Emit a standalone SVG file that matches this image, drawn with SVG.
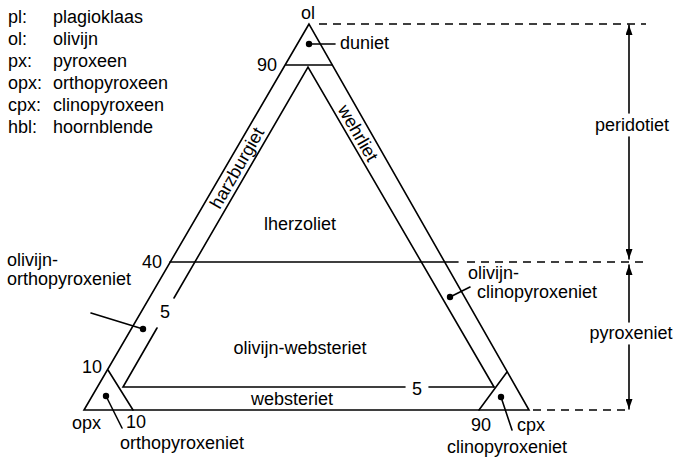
<svg xmlns="http://www.w3.org/2000/svg" width="678" height="459" viewBox="0 0 678 459">
<style>
text{font-family:"Liberation Sans",Arial,sans-serif;font-size:18px;fill:#000}
.ln{stroke:#000;stroke-width:1.6;fill:none;stroke-linecap:round}
.ds{stroke:#000;stroke-width:1.6;fill:none;stroke-dasharray:8 6}
.mid{text-anchor:middle}
</style>
<defs>
<marker id="ah" markerUnits="userSpaceOnUse" markerWidth="10" markerHeight="7" refX="10" refY="3.5" orient="auto">
<path d="M0,0 L10,3.5 L0,7 z" fill="#000"/>
</marker>
</defs>
<rect width="678" height="459" fill="#fff"/>
<g id="legend">
<text x="8" y="23">pl:</text><text x="53" y="23">plagioklaas</text>
<text x="8" y="45">ol:</text><text x="53" y="45">olivijn</text>
<text x="8" y="67">px:</text><text x="53" y="67">pyroxeen</text>
<text x="8" y="89">opx:</text><text x="53" y="89">orthopyroxeen</text>
<text x="8" y="111">cpx:</text><text x="53" y="111">clinopyroxeen</text>
<text x="8" y="133">hbl:</text><text x="53" y="133">hoornblende</text>
</g>
<g id="triangle">
<path class="ln" d="M309,24 L84,410 L529,410 Z"/>
<line class="ln" x1="286" y1="65" x2="332" y2="65"/>
<line class="ln" x1="108" y1="370" x2="133" y2="410"/>
<line class="ln" x1="479" y1="410" x2="507" y2="372"/>
<line class="ln" x1="170" y1="262" x2="458" y2="262"/>
<path class="ln" d="M174,298 L308,67 L494,387"/>
<path class="ln" d="M157,328 L123,387 L405,387"/>
<line class="ln" x1="429" y1="387" x2="494" y2="387"/>
</g>
<g id="dashes">
<line class="ds" x1="319" y1="24" x2="646" y2="24"/>
<line class="ds" x1="467" y1="262" x2="648" y2="262"/>
<line class="ds" x1="533" y1="410" x2="629" y2="410"/>
</g>
<g id="corner-labels">
<text class="mid" x="308" y="19">ol</text>
<text x="257" y="71">90</text>
<text x="142" y="268">40</text>
<text x="82" y="373">10</text>
<text x="72" y="429">opx</text>
<text x="126" y="428">10</text>
<text x="471" y="431">90</text>
<text x="517" y="431">cpx</text>
<text x="160" y="318">5</text>
<text x="412" y="395">5</text>
</g>
<g id="field-labels">
<text class="mid" x="300" y="230">lherzoliet</text>
<text class="mid" x="300" y="354">olivijn-websteriet</text>
<text class="mid" x="292" y="405">websteriet</text>
<text class="mid" transform="translate(237,168) rotate(-60)" y="6">harzburgiet</text>
<text class="mid" transform="translate(358,133) rotate(60)" y="6">wehrliet</text>
</g>
<g id="pointer-labels">
<text x="340" y="49">duniet</text>
<text x="7" y="266">olivijn-</text>
<text x="7" y="285">orthopyroxeniet</text>
<text x="468" y="279">olivijn-</text>
<text x="477" y="298">clinopyroxeniet</text>
<text x="120" y="449">orthopyroxeniet</text>
<text x="447" y="453">clinopyroxeniet</text>
<text class="mid" x="632" y="131">peridotiet</text>
<text class="mid" x="631" y="339">pyroxeniet</text>
</g>
<g id="connectors">
<circle cx="309" cy="44" r="3.2"/>
<line class="ln" x1="309" y1="44" x2="335" y2="44"/>
<circle cx="143" cy="329" r="3.2"/>
<line class="ln" x1="91" y1="313" x2="143" y2="329"/>
<circle cx="450" cy="297" r="3.2"/>
<line class="ln" x1="450" y1="297" x2="470" y2="287"/>
<circle cx="106" cy="396" r="3.2"/>
<line class="ln" x1="106" y1="396" x2="122" y2="428"/>
<circle cx="501" cy="397" r="3.2"/>
<line class="ln" x1="501" y1="397" x2="512" y2="430"/>
<line class="ln" x1="629" y1="113" x2="629" y2="25" marker-end="url(#ah)"/>
<line class="ln" x1="629" y1="137" x2="629" y2="259" marker-end="url(#ah)"/>
<line class="ln" x1="629" y1="322" x2="629" y2="265" marker-end="url(#ah)"/>
<line class="ln" x1="629" y1="345" x2="629" y2="409" marker-end="url(#ah)"/>
</g>
</svg>
